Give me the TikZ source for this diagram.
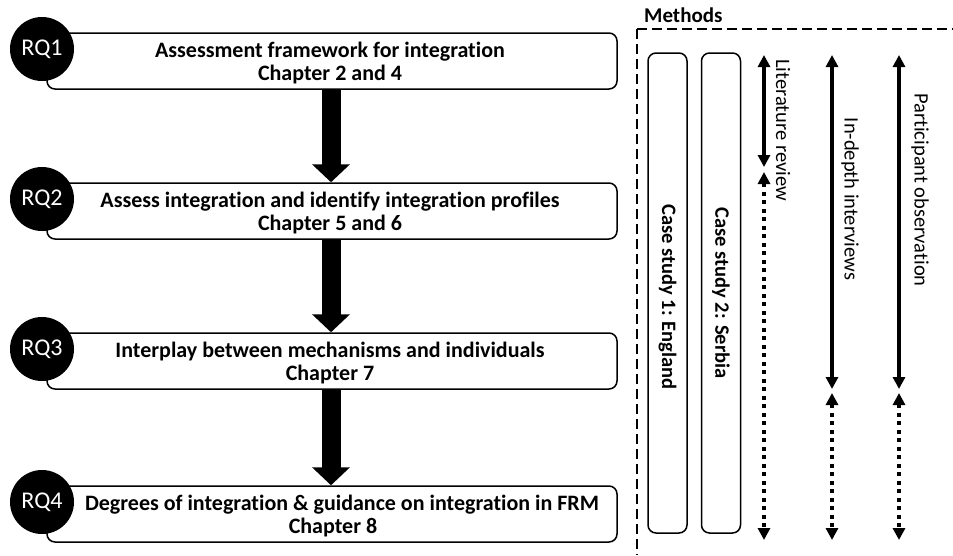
\documentclass[tikz,border=0pt]{standalone}
\usepackage{fontspec}
\setmainfont{Carlito}[Ligatures=CommonOff]
\usetikzlibrary{arrows.meta}

\tikzset{
  rqbox/.style={draw, line width=1.5pt, rounded corners=8pt, fill=white,
    minimum width=570pt, minimum height=56pt, inner sep=0pt},
  rqtext/.style={align=center, inner sep=0pt,
    font=\fontsize{22}{23}\selectfont\bfseries},
  rqdot/.style={circle, fill=black, minimum size=64pt, inner sep=0pt,
    text=white, font=\fontsize{24}{26}\selectfont},
  flow/.style={line width=19pt, -{Triangle[width=37pt,length=18pt]}},
  casebox/.style={draw, line width=1.5pt, rounded corners=8pt, rotate=-90,
    minimum width=480pt, minimum height=39pt, inner sep=0pt},
  casetext/.style={rotate=-90, inner sep=0pt,
    font=\fontsize{20.5}{23}\selectfont\bfseries},
  methlabel/.style={rotate=-90, inner sep=0pt, font=\fontsize{20.5}{23}\selectfont},
  span/.style={line width=3.5pt, {Triangle[width=12pt,length=12pt]}-{Triangle[width=12pt,length=12pt]}},
  spandot/.style={span, line width=4pt, dash pattern=on 4pt off 4.5pt},
  frame/.style={line width=1.2pt, dash pattern=on 10pt off 5pt}
}

\begin{document}
\begin{tikzpicture}[x=1pt, y=-1pt]
\useasboundingbox (0,0) rectangle (953,555);

% research questions, one box per question
\node[rqbox] (b1) at (332,61)  {};
\node[rqbox] (b2) at (332,211) {};
\node[rqbox] (b3) at (332,361) {};
\node[rqbox] (b4) at (332,514) {};

\node[rqtext] (t1) at (330,63)  {Assessment framework for integration\\Chapter 2 and 4};
\node[rqtext] (t2) at (330,213) {Assess integration and identify integration profiles\\Chapter 5 and 6};
\node[rqtext] (t3) at (330,363) {Interplay between mechanisms and individuals\\Chapter 7};
\node[rqtext] (t4) at (342,516) {Degrees of integration \& guidance on integration in FRM\\\hspace*{-18pt}Chapter 8};

\node[rqdot] (q1) at (42,49)  {RQ1};
\node[rqdot] (q2) at (42,199) {RQ2};
\node[rqdot] (q3) at (42,349) {RQ3};
\node[rqdot] (q4) at (42,502) {RQ4};

% flow between the questions
\draw[flow] ([xshift=-1pt]b1.south) -- ([xshift=-1pt]b2.north);
\draw[flow] ([xshift=-1pt]b2.south) -- ([xshift=-1pt]b3.north);
\draw[flow] ([xshift=-1pt]b3.south) -- ([xshift=-1pt]b4.north);

% methods panel
\coordinate (fr) at (953,29);
\coordinate (fc) at (637,29);
\coordinate (fb) at (637,555);
\draw[frame] (fc) -- (fr);
\draw[frame] (fc) -- (fb);
\node[anchor=west, inner sep=0pt, font=\fontsize{21}{23}\selectfont\bfseries] (meth) at (644,15) {Methods};

\node[casebox] (c1) at (667.5,293) {};
\node[casebox] (c2) at (721,293)   {};
\node[casetext] (ct1) at (667.5,297) {Case study 1: England};
\node[casetext] (ct2) at (721,293)   {Case study 2: Serbia};

% literature review
\coordinate (l1) at (764,55);
\coordinate (l2) at (764,167);
\coordinate (l3) at (764,172);
\coordinate (l4) at (764,540);
\draw[span] (l1) -- (l2);
\draw[spandot] (l3) -- (l4);
\node[methlabel] (lt) at (783,130) {Literature review};

% in-depth interviews
\coordinate (i1) at (832,55);
\coordinate (i2) at (832,389);
\coordinate (i3) at (832,393);
\coordinate (i4) at (832,540);
\draw[span] (i1) -- (i2);
\draw[spandot] (i3) -- (i4);
\node[methlabel] (it) at (850,199) {In-depth interviews};

% participant observation
\coordinate (p1) at (899,55);
\coordinate (p2) at (899,389);
\coordinate (p3) at (899,393);
\coordinate (p4) at (899,540);
\draw[span] (p1) -- (p2);
\draw[spandot] (p3) -- (p4);
\node[methlabel] (pt) at (920,190) {Participant observation};
\end{tikzpicture}
\end{document}
